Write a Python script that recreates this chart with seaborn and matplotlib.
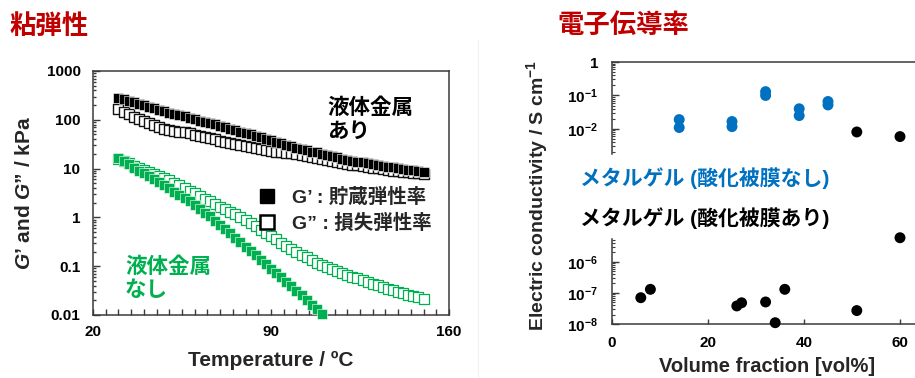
import matplotlib
matplotlib.use("Agg")
import numpy as np
import pandas as pd
import seaborn as sns
import matplotlib.pyplot as plt
from matplotlib.ticker import MultipleLocator, LogLocator, NullFormatter, FixedLocator
from matplotlib.lines import Line2D

# ---------------- data ----------------
temperature = [30, 32, 34, 36, 38, 40, 42, 44, 46, 48, 50, 52, 54, 56, 58, 60, 62, 64, 66, 68,
               70, 72, 74, 76, 78, 80, 82, 84, 86, 88, 90, 92, 94, 96, 98, 100, 102, 104, 106, 108,
               110, 112, 114, 116, 118, 120, 122, 124, 126, 128, 130, 132, 134, 136, 138, 140,
               142, 144, 146, 148, 150]
temperature_no_metal_storage = [30, 32, 34, 36, 38, 40, 42, 44, 46, 48, 50, 52, 54, 56, 58, 60,
                                62, 64, 66, 68, 70, 72, 74, 76, 78, 80, 82, 84, 86, 88, 90, 92,
                                94, 96, 98, 100, 102, 104, 106, 108, 110]

storage_with_metal = [282, 263, 245, 229, 214, 200, 186, 174, 162, 151,
                      141, 132, 123, 117, 110, 102, 95.5, 91.2, 85.1, 81.3,
                      75.9, 70.8, 66.1, 61.7, 57.5, 53.7, 50.1, 46.8, 43.7, 40.7,
                      38.0, 35.5, 33.1, 30.9, 28.8, 26.9, 25.1, 24.0, 22.4, 21.4,
                      20.0, 19.1, 17.8, 17.0, 15.8, 15.1, 14.5, 13.8, 13.5, 12.9,
                      12.3, 11.7, 11.5, 11.0, 10.7, 10.2, 10.0, 9.55, 9.33, 8.91,
                      8.71]
loss_with_metal = [166, 145, 129, 115, 103, 93.3, 85.1, 77.6, 71.4, 66.1,
                   63.1, 60.3, 57.5, 55.0, 52.5, 47.9, 45.7, 43.7, 41.7, 39.8,
                   37.2, 35.5, 33.9, 32.4, 30.9, 29.5, 28.2, 26.9, 25.7, 24.5,
                   23.4, 22.4, 21.9, 20.9, 20.4, 19.5, 18.6, 17.8, 17.0, 16.2,
                   15.5, 14.8, 14.1, 13.8, 13.2, 12.6, 12.0, 11.7, 11.2, 11.0,
                   10.5, 10.2, 9.77, 9.55, 9.12, 8.91, 8.71, 8.51, 8.13, 7.94,
                   7.76]
storage_no_metal = [16.6, 14.1, 12.3, 10.5, 9.12, 7.94, 6.92, 6.03, 5.25, 4.57,
                    3.98, 3.39, 2.88, 2.51, 2.14, 1.82, 1.51, 1.26, 1.05, 0.851,
                    0.708, 0.575, 0.468, 0.380, 0.309, 0.251, 0.204, 0.166, 0.135, 0.110,
                    0.0891, 0.0724, 0.0589, 0.0479, 0.0389, 0.0316, 0.0251, 0.0204, 0.0162, 0.0132,
                    0.0105]
loss_no_metal = [15.8, 14.1, 12.9, 11.5, 10.5, 9.33, 8.51, 7.76, 7.08, 6.46,
                 5.89, 5.13, 4.57, 3.98, 3.55, 3.09, 2.75, 2.40, 2.14, 1.86,
                 1.66, 1.48, 1.29, 1.15, 1.00, 0.891, 0.759, 0.661, 0.562, 0.490,
                 0.417, 0.355, 0.302, 0.263, 0.224, 0.191, 0.170, 0.151, 0.132, 0.117,
                 0.105, 0.0955, 0.0871, 0.0794, 0.0724, 0.0661, 0.0603, 0.0562, 0.0513, 0.0479,
                 0.0437, 0.0407, 0.0380, 0.0347, 0.0324, 0.0302, 0.0282, 0.0263, 0.0245, 0.0229,
                 0.0214]

temp_ticks = [20, 90, 160]
g_ticks = [0.01, 0.1, 1, 10, 100, 1000]
g_tick_labels = ["0.01", "0.1", "1", "10", "100", "1000"]

# conductivity
frac_no_oxide = [14, 14, 25, 25, 32, 32, 39, 39, 45, 45]
cond_no_oxide = [0.011, 0.019, 0.0117, 0.0166, 0.100, 0.130, 0.025, 0.040, 0.052, 0.066]
frac_oxide_high = [51, 60]
cond_oxide_high = [0.0081, 0.0059]
frac_oxide_low = [6, 8, 26, 27, 32, 34, 36, 51, 60]
cond_oxide_low = [7.0e-8, 1.3e-7, 3.8e-8, 4.8e-8, 5.1e-8, 1.1e-8, 1.3e-7, 2.7e-8, 5.9e-6]

frac_ticks = [0, 20, 40, 60]
top_ticks = [1, 0.1, 0.01]
top_tick_labels = ["1", r"$10^{-1}$", r"$10^{-2}$"]
bottom_ticks = [1e-6, 1e-7, 1e-8]
bottom_tick_labels = [r"$10^{-6}$", r"$10^{-7}$", r"$10^{-8}$"]

# ---------------- style ----------------
sns.set_style("ticks")
plt.rcParams["font.family"] = ["Liberation Sans", "Noto Sans CJK JP"]
plt.rcParams["font.weight"] = "bold"
plt.rcParams["mathtext.fontset"] = "custom"
plt.rcParams["mathtext.rm"] = "Liberation Sans:bold"
plt.rcParams["mathtext.bf"] = "Liberation Sans:bold"
plt.rcParams["mathtext.it"] = "Liberation Sans:italic:bold"
plt.rcParams["mathtext.default"] = "rm"

RED = "#C00000"
GREEN = "#00B050"
BLUE = "#0070C0"
SPINE = "#3a3a3a"
TICKFS = 11

W, H = 915, 378
fig = plt.figure(figsize=(W / 100, H / 100), dpi=100)

def fx(px):
    return px / W

def fy(py):
    return 1 - py / H

# ---------------- left panel ----------------
axL = fig.add_axes([fx(93), fy(315), fx(356), (315 - 71) / H])
axL.set_yscale("log")

df_sw = pd.DataFrame({"T": temperature, "G": storage_with_metal})
df_lw = pd.DataFrame({"T": temperature, "G": loss_with_metal})
df_sn = pd.DataFrame({"T": temperature_no_metal_storage, "G": storage_no_metal})
df_ln = pd.DataFrame({"T": temperature, "G": loss_no_metal})

sns.scatterplot(data=df_lw, x="T", y="G", ax=axL, marker="s", s=48, color="white",
                edgecolor="#111111", linewidth=1.0, legend=False, zorder=3, clip_on=False)
sns.scatterplot(data=df_sw, x="T", y="G", ax=axL, marker="s", s=52, color="black",
                edgecolor="white", linewidth=0.4, legend=False, zorder=4, clip_on=False)
sns.scatterplot(data=df_ln, x="T", y="G", ax=axL, marker="s", s=48, color="white",
                edgecolor=GREEN, linewidth=0.9, legend=False, zorder=3, clip_on=False)
sns.scatterplot(data=df_sn, x="T", y="G", ax=axL, marker="s", s=52, color=GREEN,
                edgecolor="white", linewidth=0.4, legend=False, zorder=4, clip_on=False)

axL.set_xlim(20, 160)
axL.set_ylim(0.01, 1000)
axL.xaxis.set_major_locator(FixedLocator(temp_ticks))
axL.xaxis.set_minor_locator(MultipleLocator(5))
axL.yaxis.set_major_locator(FixedLocator(g_ticks))
axL.set_yticklabels(g_tick_labels)
axL.yaxis.set_minor_locator(LogLocator(base=10, subs=np.arange(2, 10)))
axL.yaxis.set_minor_formatter(NullFormatter())
axL.tick_params(axis="both", which="both", direction="in", colors=SPINE,
                labelcolor="black", labelsize=TICKFS, width=1.0)
axL.tick_params(axis="x", which="both", length=4, pad=7, top=False)
axL.tick_params(axis="y", which="major", length=5, pad=9, right=False)
axL.tick_params(axis="y", which="minor", length=2.5, right=False)
for sp in axL.spines.values():
    sp.set_color(SPINE)
    sp.set_linewidth(1.1)
axL.set_xlabel("")
axL.set_ylabel("")

legend_handles = [
    Line2D([], [], marker="s", ls="none", mfc="black", mec="black", ms=10),
    Line2D([], [], marker="s", ls="none", mfc="white", mec="black", mew=1.8, ms=9.5),
]
legend_labels = ["G’ : 貯蔵弾性率", "G” : 損失弾性率"]
axL.legend(legend_handles, legend_labels, loc="center left",
           bbox_to_anchor=((257 - 93) / 356, 1 - (210 - 71) / 244),
           frameon=False, fontsize=14, handlelength=1.0, handletextpad=0.8,
           borderpad=0, borderaxespad=0, labelspacing=0.35)

fig.text(fx(271), fy(360), "Temperature / ºC", ha="center", va="center", fontsize=15)
fig.text(fx(25), fy(193), r"$\mathit{G}$’ and $\mathit{G}$” / kPa", ha="center",
         va="center", rotation=90, fontsize=15)
fig.text(fx(327), fy(120.5), "液体金属\nあり", ha="left", va="center", fontsize=15.5,
         linespacing=1.2, color="black")
fig.text(fx(125), fy(279), "液体金属\nなし", ha="left", va="center", fontsize=15.5,
         linespacing=1.15, color=GREEN)
fig.text(fx(10), fy(27), "粘弾性", ha="left", va="center", fontsize=19, color=RED)

# ---------------- right panel ----------------
xr_left = 612
xr_width = 70 * 4.8
axT = fig.add_axes([fx(xr_left), fy(154), fx(xr_width), (154 - 62) / H])
axB = fig.add_axes([fx(xr_left), fy(324), fx(xr_width), (324 - 239) / H])
for ax in (axT, axB):
    ax.set_yscale("log")
    ax.set_xlim(0, 70)

df_no = pd.DataFrame({"x": frac_no_oxide, "y": cond_no_oxide})
df_hi = pd.DataFrame({"x": frac_oxide_high, "y": cond_oxide_high})
df_lo = pd.DataFrame({"x": frac_oxide_low, "y": cond_oxide_low})
sns.scatterplot(data=df_no, x="x", y="y", ax=axT, s=62, color=BLUE, edgecolor="none",
                legend=False, clip_on=False, zorder=3)
sns.scatterplot(data=df_hi, x="x", y="y", ax=axT, s=62, color="black", edgecolor="none",
                legend=False, clip_on=False, zorder=3)
sns.scatterplot(data=df_lo, x="x", y="y", ax=axB, s=62, color="black", edgecolor="none",
                legend=False, clip_on=False, zorder=3)

axT.set_ylim(10 ** -2.75, 1)
axB.set_ylim(1e-8, 10 ** -5.27)

axT.yaxis.set_major_locator(FixedLocator(top_ticks))
axT.set_yticklabels(top_tick_labels)
axB.yaxis.set_major_locator(FixedLocator(bottom_ticks))
axB.set_yticklabels(bottom_tick_labels)
for ax in (axT, axB):
    ax.yaxis.set_minor_locator(LogLocator(base=10, subs=np.arange(2, 10)))
    ax.yaxis.set_minor_formatter(NullFormatter())
    ax.tick_params(axis="y", which="both", direction="in", colors=SPINE, labelcolor="black",
                   labelsize=TICKFS, right=False, pad=10)
    ax.tick_params(axis="y", which="major", length=5, width=1.0)
    ax.tick_params(axis="y", which="minor", length=2.5, width=0.8)
    ax.set_xlabel("")
    ax.set_ylabel("")
    for sp in ax.spines.values():
        sp.set_color(SPINE)
        sp.set_linewidth(1.1)

axT.spines["bottom"].set_visible(False)
axT.tick_params(axis="x", which="both", bottom=False, labelbottom=False, top=False)
axB.spines["top"].set_visible(False)
axB.spines["right"].set_visible(False)
axB.xaxis.set_major_locator(FixedLocator(frac_ticks))
axB.tick_params(axis="x", which="major", direction="in", length=3.5, width=1.0,
                colors=SPINE, labelcolor="black", labelsize=TICKFS, pad=8.5, top=False)

fig.text(fx(537), fy(196), r"Electric conductivity / S cm$^{-1}$", ha="center", va="center",
         rotation=90, fontsize=14)
fig.text(fx(767), fy(367), "Volume fraction [vol%]", ha="center", va="center", fontsize=14.5)
fig.text(fx(580), fy(178), "メタルゲル (酸化被膜なし)", ha="left", va="center", fontsize=15,
         color=BLUE)
fig.text(fx(580), fy(218), "メタルゲル (酸化被膜あり)", ha="left", va="center", fontsize=15,
         color="black")
fig.text(fx(557), fy(26), "電子伝導率", ha="left", va="center", fontsize=19, color=RED)

fig.add_artist(Line2D([fx(478), fx(478)], [0, fy(40)], color="#f0f0f0", lw=0.8))

fig.savefig("out.png", dpi=100, facecolor="white")
